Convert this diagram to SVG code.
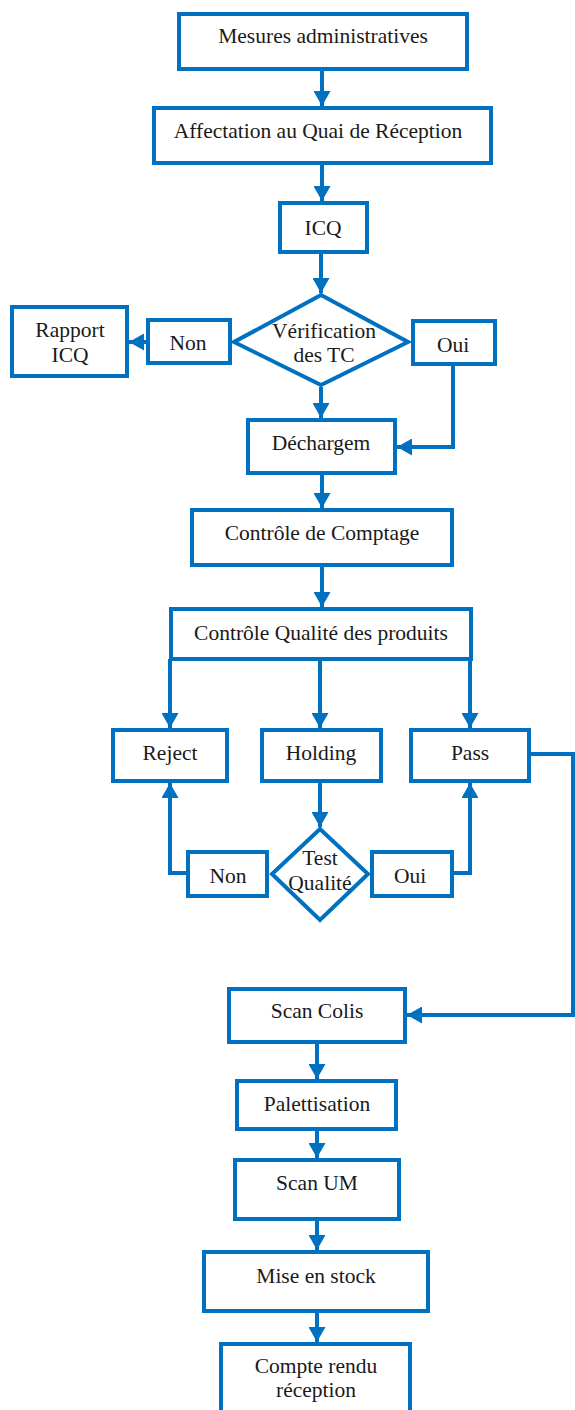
<svg xmlns="http://www.w3.org/2000/svg" width="575" height="1410" viewBox="0 0 575 1410">
  <style>
    .box { fill: #ffffff; stroke: #0070C0; stroke-width: 4; }
    .edge { fill: none; stroke: #0070C0; stroke-width: 4; stroke-linejoin: miter; }
    .lbl { font-family: 'Liberation Serif', 'DejaVu Serif', serif; font-size: 21.5px; fill: #1a1a1a; text-anchor: middle; }
  </style>
  <defs>
    <marker id="arrow" markerUnits="userSpaceOnUse" markerWidth="16" markerHeight="17" refX="15" refY="8.5" orient="auto">
      <path d="M0,0 L15,8.5 L0,17 z" fill="#0070C0"/>
    </marker>
  </defs>
  <rect width="575" height="1410" fill="#ffffff"/>

  <!-- connectors -->
  <g id="connectors">
    <line class="edge" x1="322" y1="71" x2="322" y2="106" marker-end="url(#arrow)"/>
    <line class="edge" x1="322" y1="165" x2="322" y2="201" marker-end="url(#arrow)"/>
    <line class="edge" x1="321" y1="254" x2="321" y2="293" marker-end="url(#arrow)"/>
    <line class="edge" x1="321" y1="387" x2="321" y2="418" marker-end="url(#arrow)"/>
    <line class="edge" x1="146" y1="342" x2="129" y2="342" marker-end="url(#arrow)"/>
    <polyline class="edge" points="453,366 453,447 397,447" marker-end="url(#arrow)"/>
    <line class="edge" x1="322" y1="475" x2="322" y2="508" marker-end="url(#arrow)"/>
    <line class="edge" x1="322" y1="567" x2="322" y2="607" marker-end="url(#arrow)"/>
    <line class="edge" x1="170" y1="659" x2="170" y2="728" marker-end="url(#arrow)"/>
    <line class="edge" x1="320" y1="661" x2="320" y2="728" marker-end="url(#arrow)"/>
    <line class="edge" x1="470" y1="659" x2="470" y2="728" marker-end="url(#arrow)"/>
    <line class="edge" x1="320" y1="783" x2="320" y2="827" marker-end="url(#arrow)"/>
    <polyline class="edge" points="186,873 170,873 170,783" marker-end="url(#arrow)"/>
    <polyline class="edge" points="454,873 470,873 470,783" marker-end="url(#arrow)"/>
    <polyline class="edge" points="531,754 573,754 573,1015 407,1015" marker-end="url(#arrow)"/>
    <line class="edge" x1="317" y1="1044" x2="317" y2="1079" marker-end="url(#arrow)"/>
    <line class="edge" x1="317" y1="1131" x2="317" y2="1158" marker-end="url(#arrow)"/>
    <line class="edge" x1="317" y1="1221" x2="317" y2="1250" marker-end="url(#arrow)"/>
    <line class="edge" x1="317" y1="1313" x2="317" y2="1342" marker-end="url(#arrow)"/>
  </g>

  <!-- nodes -->
  <g id="mesures">
    <rect class="box" x="179" y="14" width="288" height="55"/>
    <text class="lbl" x="323" y="43">Mesures administratives</text>
  </g>
  <g id="affectation">
    <rect class="box" x="154" y="108" width="337" height="55"/>
    <text class="lbl" x="318" y="138">Affectation au Quai de Réception</text>
  </g>
  <g id="icq">
    <rect class="box" x="280" y="203" width="87" height="49"/>
    <text class="lbl" x="323" y="235">ICQ</text>
  </g>
  <g id="verification">
    <polygon class="box" points="321,295 408,342 321,385 234,342"/>
    <text class="lbl" x="324" y="338">Vérification</text>
    <text class="lbl" x="324" y="362">des TC</text>
  </g>
  <g id="non-tc">
    <rect class="box" x="148" y="320" width="82" height="43"/>
    <text class="lbl" x="188" y="350">Non</text>
  </g>
  <g id="rapport">
    <rect class="box" x="12" y="307" width="115" height="69"/>
    <text class="lbl" x="70" y="337">Rapport</text>
    <text class="lbl" x="70" y="362">ICQ</text>
  </g>
  <g id="oui-tc">
    <rect class="box" x="413" y="321" width="82" height="43"/>
    <text class="lbl" x="453" y="352">Oui</text>
  </g>
  <g id="dechargement">
    <rect class="box" x="248" y="420" width="147" height="53"/>
    <text class="lbl" x="321" y="450">Déchargem</text>
  </g>
  <g id="comptage">
    <rect class="box" x="192" y="510" width="260" height="55"/>
    <text class="lbl" x="322" y="540">Contrôle de Comptage</text>
  </g>
  <g id="qualite">
    <rect class="box" x="171" y="609" width="300" height="50"/>
    <text class="lbl" x="321" y="640">Contrôle Qualité des produits</text>
  </g>
  <g id="reject">
    <rect class="box" x="113" y="730" width="114" height="51"/>
    <text class="lbl" x="170" y="760">Reject</text>
  </g>
  <g id="holding">
    <rect class="box" x="262" y="730" width="119" height="51"/>
    <text class="lbl" x="321" y="760">Holding</text>
  </g>
  <g id="pass">
    <rect class="box" x="411" y="730" width="118" height="51"/>
    <text class="lbl" x="470" y="760">Pass</text>
  </g>
  <g id="test-qualite">
    <polygon class="box" points="320,829 368,874 320,920 272,874"/>
    <text class="lbl" x="320" y="865">Test</text>
    <text class="lbl" x="320" y="890">Qualité</text>
  </g>
  <g id="non-test">
    <rect class="box" x="188" y="852" width="79" height="44"/>
    <text class="lbl" x="228" y="883">Non</text>
  </g>
  <g id="oui-test">
    <rect class="box" x="372" y="852" width="80" height="44"/>
    <text class="lbl" x="410" y="883">Oui</text>
  </g>
  <g id="scan-colis">
    <rect class="box" x="229" y="989" width="176" height="53"/>
    <text class="lbl" x="317" y="1018">Scan Colis</text>
  </g>
  <g id="palettisation">
    <rect class="box" x="237" y="1081" width="159" height="48"/>
    <text class="lbl" x="317" y="1111">Palettisation</text>
  </g>
  <g id="scan-um">
    <rect class="box" x="235" y="1160" width="164" height="59"/>
    <text class="lbl" x="317" y="1190">Scan UM</text>
  </g>
  <g id="mise-en-stock">
    <rect class="box" x="204" y="1252" width="224" height="59"/>
    <text class="lbl" x="316" y="1283">Mise en stock</text>
  </g>
  <g id="compte-rendu">
    <rect class="box" x="221" y="1344" width="189" height="80"/>
    <text class="lbl" x="316" y="1373">Compte rendu</text>
    <text class="lbl" x="316" y="1397">réception</text>
  </g>
</svg>
